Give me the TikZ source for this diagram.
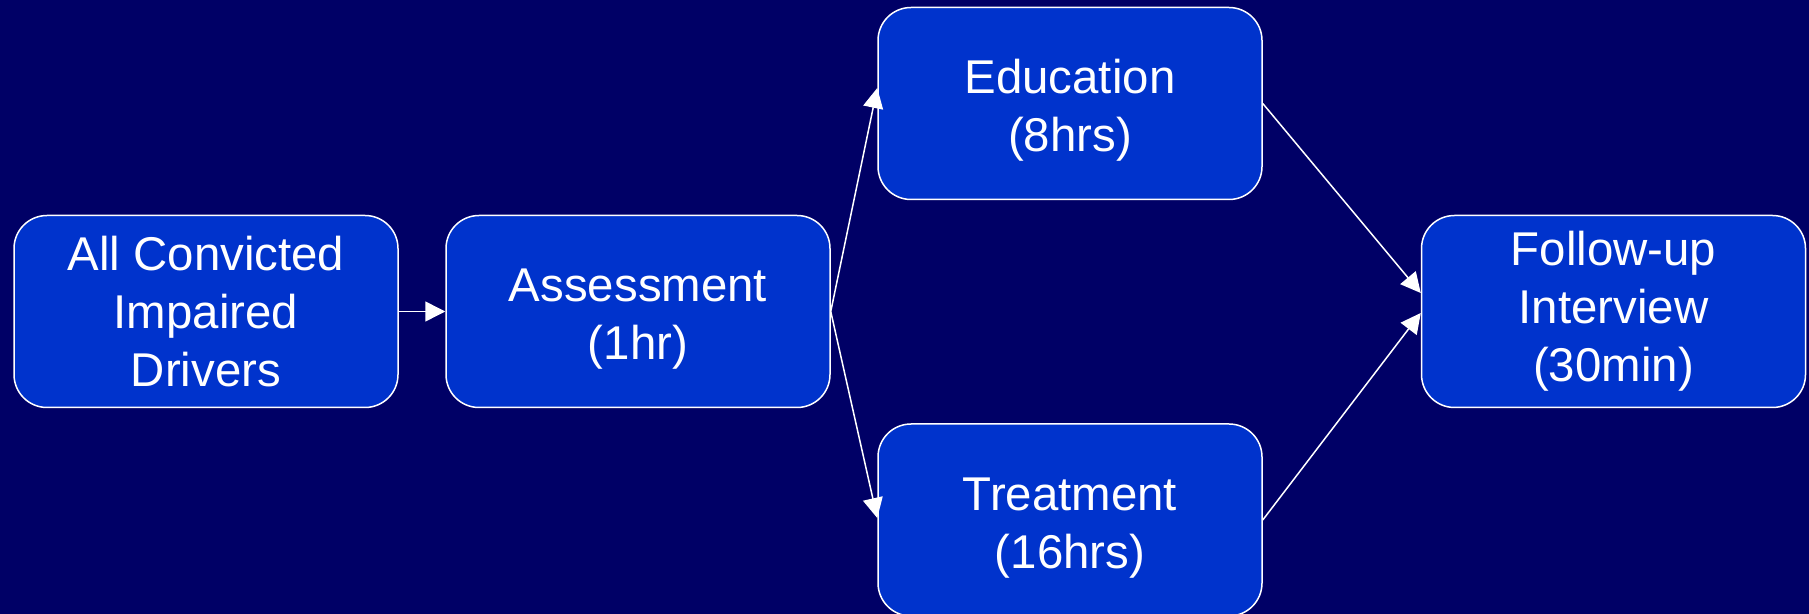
\documentclass[tikz,border=0pt]{standalone}
\usepackage{fontspec}
\setmainfont{Liberation Sans}
\usetikzlibrary{arrows.meta}
\definecolor{bgnavy}{RGB}{0,0,102}
\definecolor{boxblue}{RGB}{0,51,204}
\begin{document}
\begin{tikzpicture}[x=0.5pt,y=-0.5pt,
  stage/.style={draw=white, line width=0.75pt, fill=boxblue, rounded corners=16.5pt,
    minimum width=192pt, minimum height=96pt, text=white, align=center,
    font=\fontsize{23.7}{29}\selectfont, inner sep=0pt},
  twoline/.style={text height=53.3pt, text depth=5pt},
  flow/.style={draw=white, line width=0.75pt, -{Triangle[length=10pt,width=10pt]}}]
\fill[bgnavy] (0,0) rectangle (1809,614);
\useasboundingbox (0,0) rectangle (1809,614);
\node[stage] (all) at (206,311.5) {All Convicted\\Impaired\\Drivers};
\node[stage, twoline] (assess) at (638,311.5) {Assessment\\(1hr)};
\node[stage, twoline] (edu) at (1070,103.5) {Education\\(8hrs)};
\node[stage, twoline] (treat) at (1070,520) {Treatment\\(16hrs)};
\node[stage] (follow) at (1613.5,311.5) {Follow-up\\Interview\\(30min)};
\draw[flow] (all.east) -- (assess.west);
\draw[flow] (assess.east) -- ([yshift=7.75pt]edu.west);
\draw[flow] (assess.east) -- ([yshift=1pt]treat.west);
\draw[flow] (edu.east) -- ([yshift=9.25pt]follow.west);
\draw[flow] (treat.east) -- ([yshift=-0.75pt]follow.west);
\end{tikzpicture}
\end{document}
